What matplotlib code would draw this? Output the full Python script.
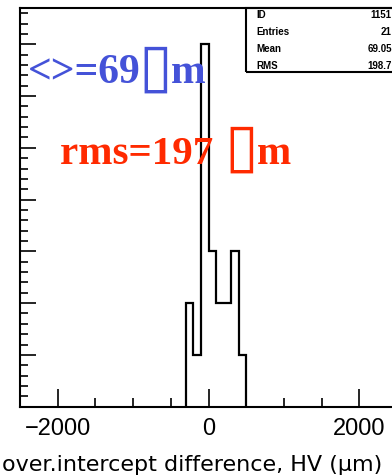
import matplotlib
matplotlib.use("Agg")
import matplotlib.pyplot as plt
import numpy as np
from matplotlib.patches import Rectangle
from matplotlib.ticker import MultipleLocator

# histogram contents
bin_edges = [-300, -200, -100, 0, 100, 200, 300, 400, 500]
counts = [2, 1, 7, 3, 2, 2, 3, 1]

stat_names = ["ID", "Entries", "Mean", "RMS"]
stat_values = ["1151", "21", "69.05", "198.7"]

# the unit glyph shows up as an empty box in the original
mean_parts = ["<>=69", "\u25af", "m"]
rms_parts = ["rms=197 ", "\u25af", "m"]
x_title = "over.intercept difference, HV (\u03bcm)"

W, H = 392, 476
fig = plt.figure(figsize=(W / 100, H / 100), dpi=100)

# frame is cut off on the right in the original
x0, x1 = 20, 397
y_top, y_bot = 8, 406.7
ax = fig.add_axes([x0 / W, (H - y_bot) / H, (x1 - x0) / W, (y_bot - y_top) / H])

ax.stairs(counts, bin_edges, color="black", linewidth=1.6, baseline=0)

ax.set_xlim(-2500, 2500)
ax.set_ylim(0, 7.7)

ax.xaxis.set_major_locator(MultipleLocator(2000))
ax.xaxis.set_minor_locator(MultipleLocator(500))
ax.yaxis.set_major_locator(MultipleLocator(1))
ax.yaxis.set_minor_locator(MultipleLocator(0.2))

ax.tick_params(axis="x", which="major", direction="in", length=13, width=1.2,
               pad=8, labelsize=17)
ax.tick_params(axis="x", which="minor", direction="in", length=6.5, width=1.2)
ax.tick_params(axis="y", which="major", direction="in", length=11.5, width=1.2,
               labelleft=False)
ax.tick_params(axis="y", which="minor", direction="in", length=5.8, width=1.2)
for lab in ax.get_xticklabels():
    lab.set_fontfamily("Liberation Sans")

for sp in ax.spines.values():
    sp.set_linewidth(1.5)

# statistics box in the corner
ax.add_patch(Rectangle((0.6, 0.839), 0.4, 0.161, transform=ax.transAxes,
                       fill=False, linewidth=1.5, edgecolor="black", clip_on=False))
row_y = [0.982, 0.940, 0.897, 0.854]
for name, val, yy in zip(stat_names, stat_values, row_y):
    ax.text(0.626, yy, name, transform=ax.transAxes, fontsize=7, fontweight="bold",
            family="Liberation Sans", va="center", ha="left")
    ax.text(0.986, yy, val, transform=ax.transAxes, fontsize=7, fontweight="bold",
            family="Liberation Sans", va="center", ha="right")


def px(x, y):
    return x / W, (H - y) / H


def unit_label(parts, color, size, x_start, base, box_c, m_x):
    fig.text(*px(x_start, base), parts[0], color=color, fontsize=size,
             fontweight="bold", family="Liberation Serif", va="baseline", ha="left")
    fig.text(*px(*box_c), parts[1], color=color, fontsize=44, fontweight="bold",
             family="DejaVu Sans", va="center", ha="center")
    fig.text(*px(m_x, base), parts[2], color=color, fontsize=size,
             fontweight="bold", family="Liberation Serif", va="baseline", ha="left")


unit_label(mean_parts, "#4452d8", 30, 28, 83, (155, 69.5), 171)
unit_label(rms_parts, "#ff2a00", 29.5, 60, 164, (241.5, 149.5), 257)

fig.text(*px(2, 471), x_title, fontsize=16, family="DejaVu Sans",
         va="baseline", ha="left")

fig.savefig("out.png", dpi=100)
